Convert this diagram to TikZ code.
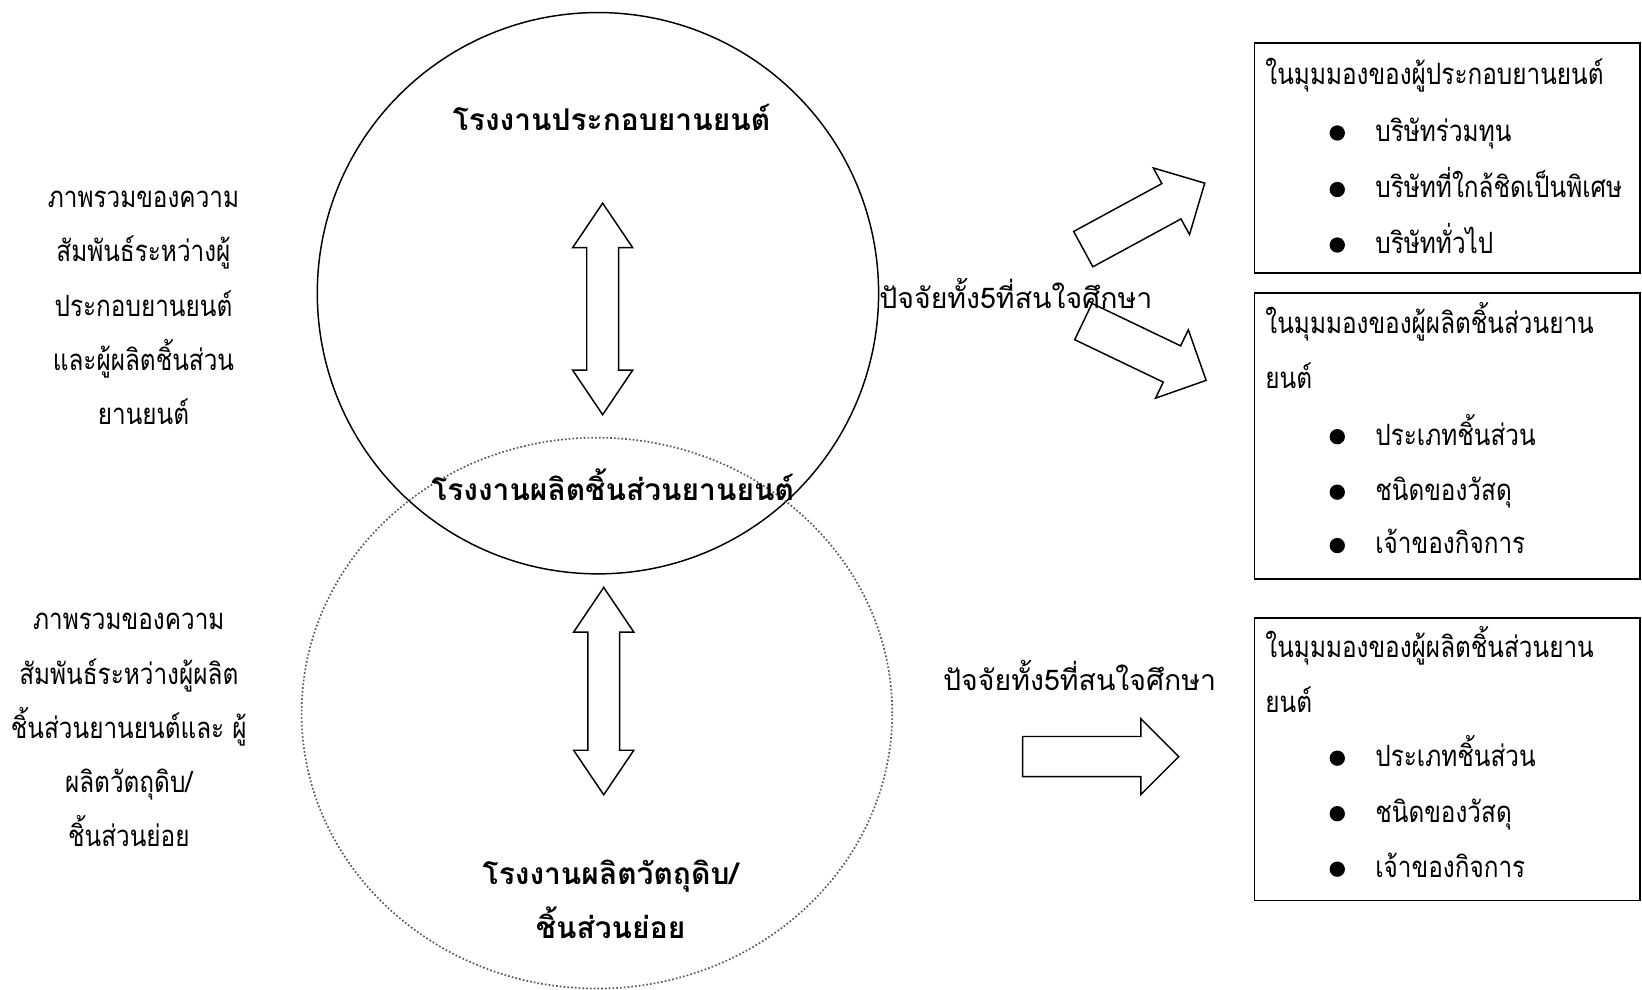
\documentclass[tikz,border=0pt]{standalone}
\usepackage{fontspec}
\newfontfamily\thai[Script=Thai, FakeStretch=0.83]{Loma}
\newfontfamily\thaiwide[Script=Thai]{Loma}
\usetikzlibrary{shapes.arrows}

\tikzset{
  thaitext/.style={font=\thai\fontsize{14}{17}\selectfont, inner sep=0pt},
  thaiblock/.style={thaitext, align=center, font=\thai\fontsize{14}{25.8}\selectfont},
  plantlabel/.style={thaitext, align=center, font=\thaiwide\bfseries\fontsize{14.3}{26}\selectfont},
  factortext/.style={thaitext, font=\thaiwide\fontsize{13.6}{17}\selectfont},
  infobox/.style={draw, line width=0.8pt, minimum width=184pt, inner sep=0pt},
  dot/.style={circle, fill, inner sep=0pt, minimum size=7.3pt},
  flowarrow/.style={single arrow, draw, line width=0.7pt, inner sep=9.25pt, single arrow head extend=8.5pt},
  linkarrow/.style={double arrow, draw, line width=0.7pt, inner sep=7.25pt, double arrow head extend=6.75pt, double arrow tip angle=68, rotate=90},
}

\begin{document}
\begin{tikzpicture}[x=0.5pt,y=-0.5pt]
\useasboundingbox (0,0) rectangle (1568,945);

% the two plants
\draw[line width=0.7pt] (571,280) circle [radius=134pt];
\draw[densely dotted, line width=0.8pt, black!65] (570,681) ellipse [x radius=141pt, y radius=131.5pt];

\node[plantlabel] (assembler) at (584,112) {โรงงานประกอบยานยนต์};
\node[plantlabel] (supplier) at (585,463) {โรงงานผลิตชิ้นส่วนยานยนต์};
\node[plantlabel] (material) at (583,859) {โรงงานผลิตวัตถุดิบ/\\ชิ้นส่วนย่อย};

\node[linkarrow, minimum height=101pt] (link1) at (575.5,295) {};
\node[linkarrow, minimum height=99pt] (link2) at (576.5,660) {};

% overview texts
\node[thaiblock] (overview1) at (137,294) {ภาพรวมของความ\\สัมพันธ์ระหว่างผู้\\ประกอบยานยนต์\\และผู้ผลิตชิ้นส่วน\\ยานยนต์};
\node[thaiblock] (overview2) at (123,697) {ภาพรวมของความ\\สัมพันธ์ระหว่างผู้ผลิต\\ชิ้นส่วนยานยนต์และ ผู้\\ผลิตวัตถุดิบ/\\ชิ้นส่วนย่อย};

% factors
\node[factortext] (factors1) at (970,280) {ปัจจัยทั้ง5ที่สนใจศึกษา};
\node[factortext] (factors2) at (1031,645) {ปัจจัยทั้ง5ที่สนใจศึกษา};

\node[flowarrow, minimum height=66pt, rotate=28.5] (toassembler) at (1084,211) {};
\node[flowarrow, minimum height=65pt, rotate=-25.6] (tosupplier) at (1084.5,331) {};
\node[flowarrow, minimum height=74.5pt] (toparts) at (1041.5,722.5) {};

% viewpoint boxes
\node[infobox, minimum height=110pt] (box1) at (1382,151) {};
\node[infobox, minimum height=136.5pt] (box2) at (1382,416.5) {};
\node[infobox, minimum height=135pt] (box3) at (1382,725) {};

\node[thaitext, anchor=base west] (head1) at (1208,81) {ในมุมมองของผู้ประกอบยานยนต์};
\node[dot] (d11) at (1277,127) {};
\node[thaitext, anchor=base west] (item11) at (1313,135) {บริษัทร่วมทุน};
\node[dot] (d12) at (1277,181) {};
\node[thaitext, anchor=base west] (item12) at (1313,189) {บริษัทที่ใกล้ชิดเป็นพิเศษ};
\node[dot] (d13) at (1277,234) {};
\node[thaitext, anchor=base west] (item13) at (1313,242) {บริษัททั่วไป};

\node[thaitext, anchor=base west] (head2) at (1208,318) {ในมุมมองของผู้ผลิตชิ้นส่วนยาน};
\node[thaitext, anchor=base west] (head2b) at (1208,371) {ยนต์};
\node[dot] (d21) at (1277,417) {};
\node[thaitext, anchor=base west] (item21) at (1313,425) {ประเภทชิ้นส่วน};
\node[dot] (d22) at (1277,470) {};
\node[thaitext, anchor=base west] (item22) at (1313,478) {ชนิดของวัสดุ};
\node[dot] (d23) at (1277,521) {};
\node[thaitext, anchor=base west] (item23) at (1313,529) {เจ้าของกิจการ};

\node[thaitext, anchor=base west] (head3) at (1208,628) {ในมุมมองของผู้ผลิตชิ้นส่วนยาน};
\node[thaitext, anchor=base west] (head3b) at (1208,680) {ยนต์};
\node[dot] (d31) at (1277,724) {};
\node[thaitext, anchor=base west] (item31) at (1313,732) {ประเภทชิ้นส่วน};
\node[dot] (d32) at (1277,777) {};
\node[thaitext, anchor=base west] (item32) at (1313,785) {ชนิดของวัสดุ};
\node[dot] (d33) at (1277,830) {};
\node[thaitext, anchor=base west] (item33) at (1313,838) {เจ้าของกิจการ};
\end{tikzpicture}
\end{document}
